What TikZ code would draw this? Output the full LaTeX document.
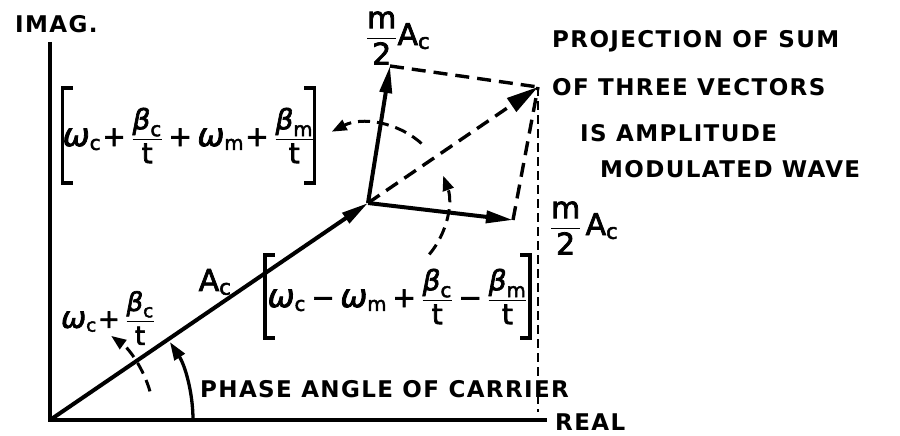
\documentclass[tikz,border=0pt]{standalone}
\usepackage{amsmath}
\usepackage{graphicx}
\usepackage{fontspec}
\setmainfont{DejaVu Sans}[FakeBold=2.5]
\newfontfamily\lab{DejaVu Sans}[LetterSpace=6]
\usetikzlibrary{arrows.meta}
\newcommand{\gw}{\text{\itshape\scalebox{1.15}{ω}}}
\newcommand{\gb}{\text{\itshape β}}
\newcommand{\tx}[1]{\text{#1}}
\newcommand{\pl}{\mathbin{\text{+}}}
\newcommand{\mi}{\mathbin{\text{−}}}
\tikzset{
  axis/.style={line width=3.3pt},
  vec/.style={line width=4pt,-{Triangle[length=27pt,width=12pt]}},
  dsh/.style={line width=3.4pt,dash pattern=on 14pt off 8pt},
  vdsh/.style={line width=2.6pt,dash pattern=on 9pt off 5pt},
  darc/.style={line width=3pt,dash pattern=on 12pt off 7pt,-{Triangle[length=15pt,width=11pt]}},
  brk/.style={line width=3.5pt},
  lbl/.style={font=\fontsize{23}{28}\selectfont\lab\bfseries,inner sep=0pt},
  frm/.style={font=\fontsize{28}{32}\selectfont,inner sep=0pt},
}
\begin{document}
\begin{tikzpicture}[x=1pt,y=-1pt]
\useasboundingbox (0,0) rectangle (900,436);
% key points
\coordinate (O) at (50,420);
\coordinate (Itop) at (50,42);
\coordinate (Rend) at (547,420);
\coordinate (J) at (368,203);
\coordinate (T) at (390,66);
\coordinate (L) at (513,220);
\coordinate (S) at (538,87);
\coordinate (Sb) at (538,412);
% axes
\draw[axis] (Itop) -- (O) -- (Rend);
% carrier
\draw[vec] (O) -- (J);
% sidebands
\draw[vec] (J) -- (T);
\draw[vec] (J) -- (L);
% parallelogram
\draw[dsh] (T) -- (S);
\draw[dsh] (L) -- (S);
\draw[dsh,-{Triangle[length=32pt,width=16pt]}] (J) -- (S);
\draw[vdsh] (S) -- (Sb);
% arcs
\draw[line width=3.3pt,-{Triangle[length=18pt,width=12pt]}] ([shift={(0:143pt)}]O) arc[start angle=0,end angle=33,radius=143pt];
\draw[darc] ([shift={(16:104pt)}]O) arc[start angle=16,end angle=54,radius=104pt];
\draw[darc] ([shift={(48:80pt)}]J) arc[start angle=48,end angle=117,radius=80pt];
\draw[darc] ([shift={(-40:80pt)}]J) arc[start angle=-40,end angle=20,radius=80pt];
% formulas with brackets
\node[frm,minimum width=247pt,minimum height=95pt] (uf) at (188.5,135.5)
  {$\gw_{\tx{c}}\!\pl\dfrac{\gb_{\tx{c}}}{\tx{t}}\pl\gw_{\tx{m}}\!\pl\dfrac{\gb_{\tx{m}}}{\tx{t}}$};
\draw[brk] ([xshift=10pt]uf.north west) -- (uf.north west) -- (uf.south west) -- ([xshift=10pt]uf.south west);
\draw[brk] ([xshift=-10pt]uf.north east) -- (uf.north east) -- (uf.south east) -- ([xshift=-10pt]uf.south east);
\node[frm,minimum width=265pt,minimum height=83pt] (lf) at (397.5,296.5)
  {$\gw_{\tx{c}}\mi\gw_{\tx{m}}\pl\dfrac{\gb_{\tx{c}}}{\tx{t}}\mi\dfrac{\gb_{\tx{m}}}{\tx{t}}$};
\draw[brk] ([xshift=10pt]lf.north west) -- (lf.north west) -- (lf.south west) -- ([xshift=10pt]lf.south west);
\draw[brk] ([xshift=-10pt]lf.north east) -- (lf.north east) -- (lf.south east) -- ([xshift=-10pt]lf.south east);
% labels
\node[lbl,anchor=west] (imag) at (15,24) {IMAG.};
\node[lbl,anchor=west] (real) at (555,422) {REAL};
\node[lbl,anchor=west] (phase) at (200,389) {PHASE ANGLE OF CARRIER};
\node[lbl,anchor=west] (p1) at (552,41) {PROJECTION OF SUM};
\node[lbl,anchor=west] (p2) at (552,87) {OF THREE VECTORS};
\node[lbl,anchor=west] (p3) at (580,133) {IS AMPLITUDE};
\node[lbl,anchor=west] (p4) at (600,169) {MODULATED WAVE};
\node[frm,font=\fontsize{30}{34}\selectfont] (mt) at (398,38) {$\dfrac{\tx{m}}{\tx{2}}\tx{A}_{\tx{c}}$};
\node[frm,font=\fontsize{30}{34}\selectfont] (mb) at (584,228) {$\dfrac{\tx{m}}{\tx{2}}\,\tx{A}_{\tx{c}}$};
\node[frm,font=\fontsize{30}{34}\selectfont] (ac) at (215,282) {A$_{\tx{c}}$};
\node[frm,font=\fontsize{26}{30}\selectfont] (wc) at (108,318) {$\gw_{\tx{c}}\!\pl\dfrac{\gb_{\tx{c}}}{\tx{t}}$};
\end{tikzpicture}
\end{document}
